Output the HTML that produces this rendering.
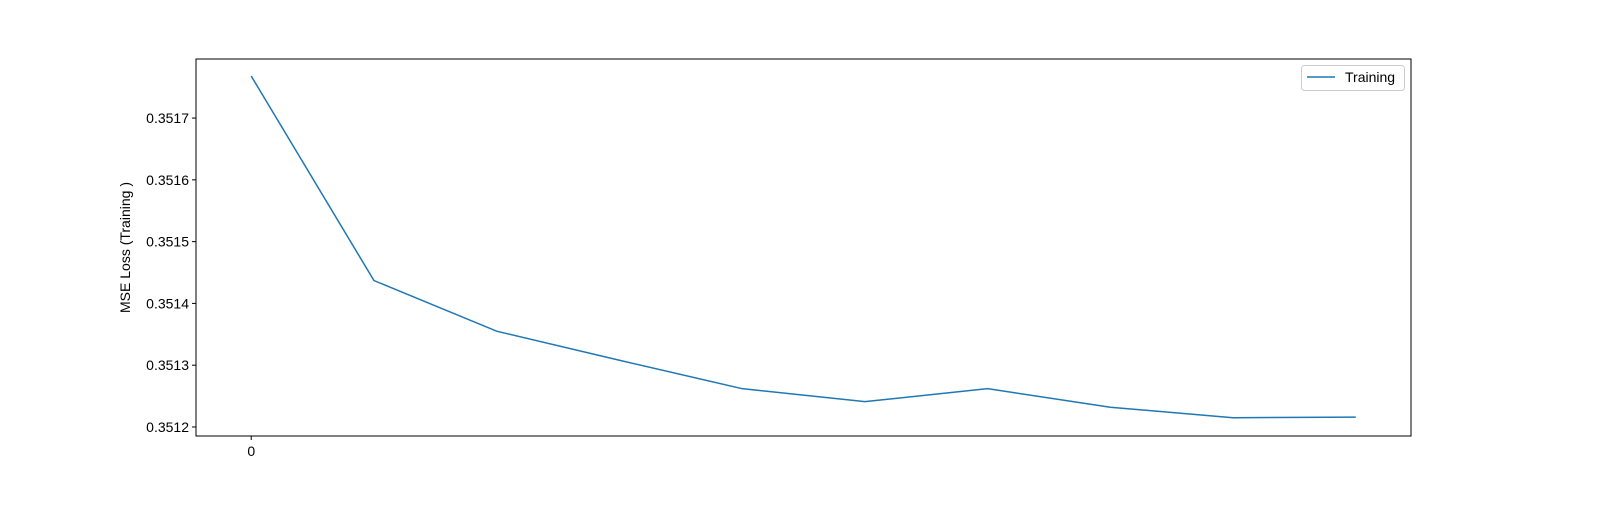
<!DOCTYPE html>
<html><head><meta charset="utf-8"><style>
body{margin:0;background:#fff;}
svg text{font-family:"Liberation Sans","DejaVu Sans",sans-serif;font-size:14px;fill:#000;}
</style></head><body>
<svg id="chart" width="1600" height="500" xmlns="http://www.w3.org/2000/svg"></svg>
<script>
const epochs=[0,1,2,3,4,5,6,7,8,9];
const trainingLoss=[0.351768,0.351437,0.351355,0.351308,0.351262,0.351241,0.351262,0.351232,0.351215,0.351216];
const yTicks=[0.3512,0.3513,0.3514,0.3515,0.3516,0.3517];
const xTicks=[0];
const L=196,R=1411,T=59,B=436;
const xMin=-0.45,xMax=9.45,yMin=0.3511854,yMax=0.3517956;
const xs=v=>L+(v-xMin)/(xMax-xMin)*(R-L);
const ys=v=>B-(v-yMin)/(yMax-yMin)*(B-T);
const svg=document.getElementById('chart');
const NS='http://www.w3.org/2000/svg';
function mk(t,a,p){const e=document.createElementNS(NS,t);for(const k in a)e.setAttribute(k,a[k]);(p||svg).appendChild(e);return e;}
const frame=mk('rect',{x:L,y:T,width:R-L,height:B-T,fill:'none',stroke:'#000','stroke-width':1});


yTicks.forEach(v=>{const y=ys(v);
const tk=mk('line',{x1:L-4,x2:L,y1:y,y2:y,stroke:'#000'});


const t=mk('text',{x:L-7,y:y+5,'text-anchor':'end'});t.textContent=v.toFixed(4);

});
xTicks.forEach(v=>{const x=xs(v);
const tk=mk('line',{x1:x,x2:x,y1:B,y2:B+4,stroke:'#000'});


const t=mk('text',{x:x,y:B+20,'text-anchor':'middle'});t.textContent=String(v);

});
const yt=mk('text',{x:130,y:(T+B)/2,'text-anchor':'middle',transform:`rotate(-90 130 ${(T+B)/2})`});
yt.textContent='MSE Loss (Training )';


const line=mk('polyline',{points:epochs.map((e,i)=>xs(e)+','+ys(trainingLoss[i])).join(' '),fill:'none',stroke:'#1f77b4','stroke-width':1.5});


const lg=mk('g',{});


mk('rect',{x:1301.5,y:65.5,width:103,height:25,rx:3,fill:'#fff',stroke:'#ccc'},lg);
mk('line',{x1:1307,x2:1335,y1:77,y2:77,stroke:'#1f77b4','stroke-width':1.5},lg);
const lt=mk('text',{x:1345,y:82},lg);lt.textContent='Training';


</script>
</body></html>
